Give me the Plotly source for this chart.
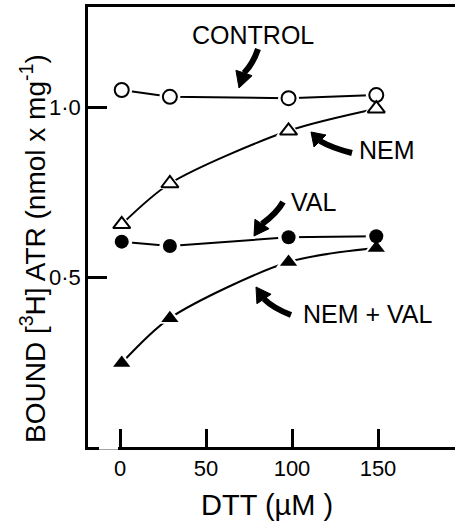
import math
import plotly.graph_objects as go

# ---- data ----
dtt = [1, 29, 98, 149]
control = [1.05, 1.03, 1.026, 1.035]
nem = [0.655, 0.775, 0.93, 0.995]
val = [0.604, 0.591, 0.617, 0.62]
nem_val = [0.247, 0.379, 0.544, 0.585]

x_ticks = [0, 50, 100, 150]
x_ticktext = ["0", "50", "100", "150"]
y_ticks = [0.5, 1.0]
y_ticktext = ["0·5", "1·0"]

# ---- layout geometry (pixels) ----
W_FIG, H_FIG = 455, 527
L, T, R, B = 88, 7, 0, 80
PW = W_FIG - L - R
PH = H_FIG - T - B

FONT = "Liberation Sans, Arial, sans-serif"

fig = go.Figure()

series = [
    (control, "circle-open", 14, "linear"),
    (nem, "triangle-up-open", 15, "spline"),
    (val, "circle", 14, "linear"),
    (nem_val, "triangle-up", 15, "spline"),
]

for ys, sym, sz, shape in series:
    fig.add_trace(go.Scatter(x=dtt, y=ys, mode="lines",
                             line=dict(color="black", width=2, shape=shape, smoothing=0.8),
                             hoverinfo="skip", showlegend=False))
for ys, sym, sz, shape in series:
    fig.add_trace(go.Scatter(x=dtt, y=ys, mode="markers",
                             marker=dict(symbol=sym.replace("-open", ""), size=sz + 7, color="white",
                                         line=dict(width=0)),
                             hoverinfo="skip", showlegend=False))
for ys, sym, sz, shape in series:
    if sym.endswith("open"):
        mk = dict(symbol=sym.replace("-open", ""), size=sz, color="white",
                  line=dict(color="black", width=2))
    else:
        mk = dict(symbol=sym, size=sz, color="black", line=dict(width=0))
    fig.add_trace(go.Scatter(x=dtt, y=ys, mode="markers", marker=mk, showlegend=False))


def p2paper(px, py):
    return (px - L) / PW, (T + PH - py) / PH


def arrow(tail, ctrl, neck, tip, hw=8.5, width=6):
    x0, y0 = p2paper(*tail)
    cx, cy = p2paper(*ctrl)
    x1, y1 = p2paper(*neck)
    fig.add_shape(type="path", xref="paper", yref="paper",
                  path=f"M {x0},{y0} Q {cx},{cy} {x1},{y1}",
                  line=dict(color="black", width=width))
    dx, dy = tip[0] - neck[0], tip[1] - neck[1]
    n = math.hypot(dx, dy)
    nx, ny = -dy / n, dx / n
    b1 = p2paper(neck[0] + nx * hw, neck[1] + ny * hw)
    b2 = p2paper(neck[0] - nx * hw, neck[1] - ny * hw)
    tp = p2paper(*tip)
    fig.add_shape(type="path", xref="paper", yref="paper",
                  path=f"M {b1[0]},{b1[1]} L {tp[0]},{tp[1]} L {b2[0]},{b2[1]} Z",
                  fillcolor="black", line=dict(color="black", width=1))


arrow((258, 49), (253, 64), (244, 73), (239, 88))
arrow((352, 153), (332, 148), (320, 141), (311, 132))
arrow((283, 202), (277, 213), (262, 224), (254, 236))
arrow((291, 315), (273, 308), (264, 299), (256, 287))

# small break in the bottom axis line, as in the reference
g0, gy = p2paper(99, 447)
g1, _ = p2paper(118, 447)
fig.add_shape(type="rect", xref="paper", yref="paper", x0=g0, x1=g1,
              y0=-0.006, y1=0.006, fillcolor="white", line=dict(width=0), layer="above")

labels = [("CONTROL", 253, 35), ("NEM", 387, 150), ("VAL", 313, 202), ("NEM + VAL", 368, 314)]
for txt, px, py in labels:
    xp, yp = p2paper(px, py)
    fig.add_annotation(text=txt, x=xp, y=yp, xref="paper", yref="paper",
                       showarrow=False, xanchor="center", yanchor="middle",
                       font=dict(family=FONT, size=25, color="black"))

# axis titles as annotations
xp, yp = p2paper(33, 249)
fig.add_annotation(text="BOUND [<sup>3</sup>H] ATR (nmol x mg<sup>-1</sup>)", x=xp, y=yp,
                   xref="paper", yref="paper", showarrow=False, textangle=-90,
                   xanchor="center", yanchor="middle",
                   font=dict(family=FONT, size=28, color="black"))
xp, yp = p2paper(267, 505)
fig.add_annotation(text="DTT (µM )", x=xp, y=yp, xref="paper", yref="paper",
                   showarrow=False, xanchor="center", yanchor="middle",
                   font=dict(family=FONT, size=29, color="black"))

x_lo = -(120 - L) / 1.72
x_hi = x_lo + PW / 1.72
y_hi = PH / 340.0

fig.update_layout(
    width=W_FIG, height=H_FIG,
    margin=dict(l=L, r=R, t=T, b=B, pad=0, autoexpand=False),
    paper_bgcolor="white", plot_bgcolor="white",
    showlegend=False,
    xaxis=dict(range=[x_lo, x_hi], tickvals=x_ticks, ticktext=x_ticktext,
               ticks="inside", ticklen=18, tickwidth=2.5, tickcolor="black",
               showline=True, linecolor="black", linewidth=2.5, mirror=True,
               showgrid=False, zeroline=False, automargin=False,
               tickfont=dict(family=FONT, size=22, color="black")),
    yaxis=dict(range=[0, y_hi], tickvals=y_ticks, ticktext=y_ticktext,
               ticks="inside", ticklen=19, tickwidth=2.5, tickcolor="black",
               showline=True, linecolor="black", linewidth=2.5, mirror=False,
               showgrid=False, zeroline=False, automargin=False,
               tickfont=dict(family=FONT, size=22, color="black")),
)

fig.write_html("out.html", config={"displayModeBar": False},
               post_script="document.body.style.margin='0';document.body.style.overflow='hidden';")
